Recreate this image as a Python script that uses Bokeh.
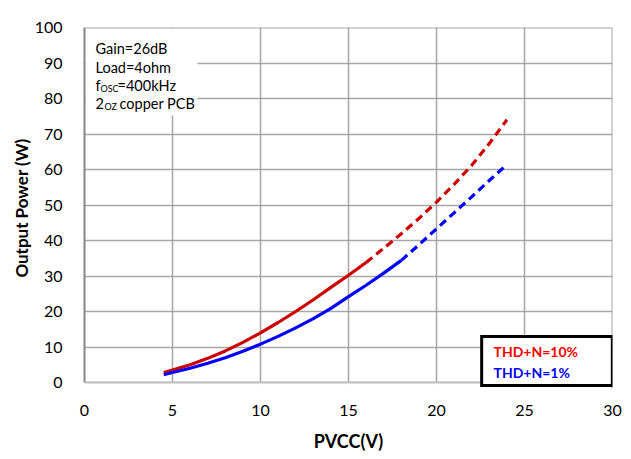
from bokeh.plotting import figure
from bokeh.models import FixedTicker, Label, BoxAnnotation, Span
from bokeh.embed import file_html
from bokeh.resources import INLINE

# ---- data ----
red_solid_v = [4.5, 5, 6, 7, 8, 9, 10, 11, 12, 13, 14, 15, 16]
red_solid_p = [2.8, 3.5, 5.0, 6.8, 8.9, 11.3, 14.0, 16.9, 20.0, 23.3, 26.8, 30.2, 33.8]
red_dash_v = [16, 17, 18, 19, 20, 21, 22, 23, 24]
red_dash_p = [33.8, 37.8, 41.9, 46.2, 50.8, 55.8, 61.2, 67.3, 74.0]

blue_solid_v = [4.5, 5, 6, 7, 8, 9, 10, 11, 12, 13, 14, 15, 16, 17, 18]
blue_solid_p = [2.2, 2.8, 4.0, 5.4, 7.0, 8.8, 10.8, 13.0, 15.4, 18.0, 20.9, 24.2, 27.4, 30.8, 34.4]
blue_dash_v = [18, 19, 20, 21, 22, 23, 24]
blue_dash_p = [34.4, 38.8, 43.3, 47.8, 52.3, 56.9, 61.4]

x_ticks = [0, 5, 10, 15, 20, 25, 30]
y_ticks = [0, 10, 20, 30, 40, 50, 60, 70, 80, 90, 100]

legend_labels = ["THD+N=10%", "THD+N=1%"]

FONT = "Lato"
FW, FH = 528, 355          # pixel size of the 0..30 x 0..100 area
EXTRA = 6                  # frame extends a few px below 0 so the legend box is not clipped
X0, X1, Y0, Y1 = 0, 30, 0, 100
Y0_EXT = -EXTRA * (Y1 - Y0) / FH

p = figure(frame_width=FW, frame_height=FH + EXTRA, x_range=(X0, X1), y_range=(Y0_EXT, Y1),
           output_backend="svg", toolbar_location=None,
           min_border_left=84, min_border_right=18, min_border_top=27, min_border_bottom=70)
p.background_fill_color = "white"
p.border_fill_color = "white"
p.outline_line_color = None

# page pixel (0..30/0..100 area at page 84..612, 27..382) -> data helpers for annotations
def dx(px):
    return (px - 84) / FW * (X1 - X0)

def dy(py):
    return (382 - py) / FH * (Y1 - Y0)

for ax in (p.xaxis, p.yaxis):
    ax.major_tick_line_color = None
    ax.minor_tick_line_color = None
    ax.major_label_text_font = FONT
    ax.major_label_text_font_size = "16px"
    ax.major_label_text_color = "black"
    ax.axis_label_text_font = FONT
    ax.axis_label_text_font_style = "bold"
    ax.axis_label_text_color = "black"

p.xaxis.axis_label_text_font_size = "18px"
p.yaxis.axis_label_text_font_size = "17px"
p.xaxis.ticker = FixedTicker(ticks=x_ticks)
p.yaxis.ticker = FixedTicker(ticks=y_ticks)
p.xaxis.axis_label = "PVCC(V)"
p.yaxis.axis_label = "Output Power (W)"
p.xaxis.major_label_standoff = 16 - EXTRA
p.yaxis.major_label_standoff = 16
p.xaxis.axis_label_standoff = 11
p.yaxis.axis_label_standoff = 0
p.xaxis.axis_line_color = None
p.yaxis.axis_line_color = "#868686"
p.yaxis.axis_line_width = 2
p.yaxis.bounds = (Y0, Y1)

p.grid.grid_line_color = "#A6A6A6"
p.grid.grid_line_width = 1.5

# hide the grid below y=0 (white strip under the x axis line)
p.add_layout(BoxAnnotation(top=Y0, fill_color="white", fill_alpha=1.0, line_alpha=0,
                           level="underlay"))
# conditions box (white, covers grid)
p.add_layout(BoxAnnotation(left=dx(85), right=dx(197), top=dy(28), bottom=dy(115),
                           fill_color="white", fill_alpha=1.0, line_alpha=0, level="underlay"))

# plot-area border (top / right) and x axis line at y=0
p.add_layout(Span(location=Y1, dimension="width", line_color="#A6A6A6", line_width=2))
p.add_layout(Span(location=X1, dimension="height", line_color="#A6A6A6", line_width=2))
p.add_layout(Span(location=Y0, dimension="width", line_color="#BFBFBF", line_width=2))

RED = "#CC0000"
BLUE = "#0000FF"
p.line(red_solid_v, red_solid_p, line_color=RED, line_width=3.2)
p.line(red_dash_v, red_dash_p, line_color=RED, line_width=3.2, line_dash="8 5")
p.line(blue_solid_v, blue_solid_p, line_color=BLUE, line_width=3.2)
p.line(blue_dash_v, blue_dash_p, line_color=BLUE, line_width=3.2, line_dash="8 5")

def lab(px, py, text, size="14.5px", color="black", style="normal", baseline="alphabetic"):
    p.add_layout(Label(x=dx(px), y=dy(py), text=text, text_font=FONT, text_font_size=size,
                       text_color=color, text_font_style=style, text_baseline=baseline,
                       text_align="left"))

lab(95, 48, "Gain=26dB")
lab(95, 67, "Load=4ohm")
lab(95, 85, "f")
lab(100, 88, "OSC", size="9px")
lab(117, 85, "=400kHz")
lab(95, 103, "2")
lab(104, 106, "OZ", size="9px")
lab(119, 103, "copper PCB")

# legend box: black outer block + white inner block; padding is (horizontal, vertical)
def block(cx, cy, color, pad):
    p.add_layout(Label(x=dx(cx), y=dy(cy), text=".", text_font_size="6px",
                       text_color=color, text_alpha=1.0,
                       text_align="center", text_baseline="middle",
                       background_fill_color=color, background_fill_alpha=1.0,
                       padding=pad))

block(546.5, 360.5, "black", (66, 24))
block(546.5, 360.5, "white", (63, 21))
lab(493, 351, legend_labels[0], size="14px", color="#FF0000", style="bold", baseline="middle")
lab(493, 372, legend_labels[1], size="14px", color="#0000FF", style="bold", baseline="middle")

open("out.html", "w").write(file_html(p, INLINE))
